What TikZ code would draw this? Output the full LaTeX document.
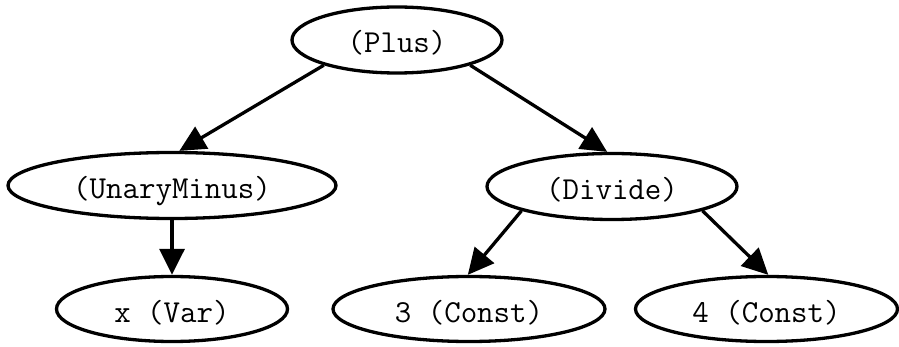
\documentclass[tikz,border=0pt]{standalone}
\usepackage{fontspec}
\usetikzlibrary{shapes.geometric,arrows.meta}

\tikzset{
  treenode/.style={ellipse, draw, line width=3.3pt, inner sep=0pt,
    text height=30pt, text depth=4pt,
    font=\ttfamily\fontsize{32}{32}\selectfont\addfontfeature{FakeStretch=1.08}},
  edge/.style={line width=3.3pt,
    -{Triangle[length=26pt,width=25pt]}}
}

\begin{document}
\begin{tikzpicture}[x=1pt,y=-1pt]
  \useasboundingbox (0,0) rectangle (899,347);

  % expression tree nodes
  \node[treenode, minimum width=210pt, minimum height=66pt] (plus)   at (397,40)    {(Plus)};
  \node[treenode, minimum width=328pt, minimum height=66pt] (uminus) at (172,185.5) {(UnaryMinus)};
  \node[treenode, minimum width=250pt, minimum height=66pt] (divide) at (612,186.5) {(Divide)};
  \node[treenode, minimum width=231pt, minimum height=65pt] (var)    at (172,309)   {x (Var)};
  \node[treenode, minimum width=272pt, minimum height=65pt] (c3)     at (469,309)   {3 (Const)};
  \node[treenode, minimum width=262pt, minimum height=65pt] (c4)     at (766.5,309) {4 (Const)};

  % parent-to-child edges
  \draw[edge] (plus.199.5)   -- (uminus.78);
  \draw[edge] (plus.341.9)   -- (divide.98);
  \draw[edge] (uminus.270)   -- (var.90);
  \draw[edge] (divide.195.9) -- (c3.92);
  \draw[edge] (divide.345)   -- (c4.87);
\end{tikzpicture}
\end{document}
